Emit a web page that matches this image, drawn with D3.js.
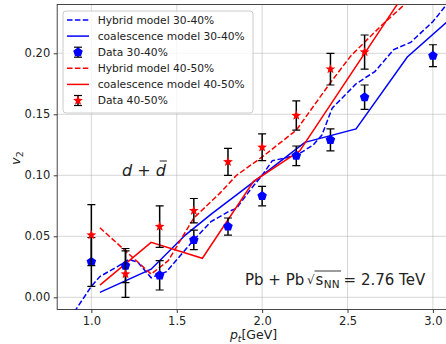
<!DOCTYPE html>
<html><head><meta charset="utf-8">
<script src="https://cdn.jsdelivr.net/npm/d3@7"></script>
<style>body{margin:0;background:#fff}svg{display:block;font-family:"DejaVu Sans",sans-serif}text{white-space:pre}</style>
</head><body><svg id="c" width="446" height="344"></svg>
<script>
// ---- data ----
const ptData = [1.0, 1.2, 1.4, 1.6, 1.8, 2.0, 2.2, 2.4, 2.6, 3.0];
const v2Data3040 = [0.029, 0.026, 0.018, 0.047, 0.058, 0.083, 0.116, 0.129, 0.164, 0.198];
const err3040 = [0.020, 0.014, 0.012, 0.008, 0.007, 0.008, 0.008, 0.009, 0.010, 0.009];
const ptData4050 = [1.0, 1.2, 1.4, 1.6, 1.8, 2.0, 2.2, 2.4, 2.6];
const v2Data4050 = [0.051, 0.019, 0.058, 0.071, 0.111, 0.123, 0.149, 0.187, 0.201];
const err4050 = [0.025, 0.019, 0.017, 0.010, 0.011, 0.011, 0.012, 0.013, 0.014];

const hybridPt3040 = [0.9, 1.0, 1.05, 1.15, 1.22, 1.27, 1.35, 1.44, 1.6, 1.7, 1.8, 1.85, 1.93, 2.0, 2.06, 2.13, 2.21, 2.3, 2.35, 2.41, 2.55, 2.66, 2.77, 2.87, 3.0, 3.08];
const hybridV2_3040 = [-0.012, 0.009, 0.017, 0.025, 0.031, 0.029, 0.016, 0.021, 0.047, 0.062, 0.070, 0.073, 0.088, 0.100, 0.112, 0.114, 0.117, 0.125, 0.133, 0.155, 0.175, 0.185, 0.203, 0.209, 0.226, 0.240];
const coalPt3040 = [1.05, 1.35, 1.55, 1.7, 2.0, 2.25, 2.55, 2.85, 3.1];
const coalV2_3040 = [0.004, 0.023, 0.051, 0.068, 0.100, 0.127, 0.138, 0.197, 0.228];
const hybridPt4050 = [1.05, 1.2, 1.35, 1.45, 1.6, 1.75, 1.85, 2.0, 2.2, 2.4, 2.52, 2.7, 2.85];
const hybridV2_4050 = [0.057, 0.038, 0.019, 0.030, 0.065, 0.085, 0.100, 0.115, 0.137, 0.176, 0.198, 0.223, 0.242];
const coalPt4050 = [1.05, 1.35, 1.65, 1.95, 2.22, 2.8, 2.9];
const coalV2_4050 = [0.010, 0.045, 0.032, 0.095, 0.120, 0.242, 0.263];

const xTicks = [1.0, 1.5, 2.0, 2.5, 3.0];
const yTicks = [0.00, 0.05, 0.10, 0.15, 0.20];
const legendLabels = ["Hybrid model 30-40%", "coalescence model 30-40%", "Data 30-40%", "Hybrid model 40-50%", "coalescence model 40-50%", "Data 40-50%"];

// ---- layout ----
const L = 57.2, R = 450, T = 4.5, B = 309.5;
const svg = d3.select("#c");
const x = d3.scaleLinear().domain([0.8, 3.1]).range([L, R]);
const y = d3.scaleLinear().domain([-0.01, 0.24]).range([B, T]);
const BLUE = "#0000ff", RED = "#ff0000";

svg.append("defs").append("clipPath").attr("id", "clip")
  .append("rect").attr("x", L).attr("y", T).attr("width", R - L).attr("height", B - T);

// grid
const grid = svg.append("g");
xTicks.forEach(t => grid.append("line").attr("x1", x(t)).attr("x2", x(t)).attr("y1", T).attr("y2", B)
  .attr("stroke", "#b0b0b0").attr("stroke-opacity", 0.5).attr("stroke-width", 1));
yTicks.forEach(t => grid.append("line").attr("y1", y(t)).attr("y2", y(t)).attr("x1", L).attr("x2", R)
  .attr("stroke", "#b0b0b0").attr("stroke-opacity", 0.5).attr("stroke-width", 1));

// axes
const xAxis = svg.append("g").attr("transform", `translate(0,${B})`)
  .call(d3.axisBottom(x).tickValues(xTicks).tickFormat(d3.format(".1f")).tickSizeOuter(0).tickSize(3.5).tickPadding(3.5));
const yAxis = svg.append("g").attr("transform", `translate(${L},0)`)
  .call(d3.axisLeft(y).tickValues(yTicks).tickFormat(d3.format(".2f")).tickSizeOuter(0).tickSize(3.5).tickPadding(3.5));
[xAxis, yAxis].forEach(a => {
  a.select(".domain").remove();
  a.selectAll("text").attr("font-size", "11.5px").attr("fill", "#222").attr("font-family", "DejaVu Sans");
  a.selectAll("line").attr("stroke", "#222").attr("stroke-width", 0.9);
});
// spines
svg.append("rect").attr("x", L).attr("y", T).attr("width", R - L).attr("height", B - T)
  .attr("fill", "none").attr("stroke", "#333").attr("stroke-width", 0.9);

// lines
const plot = svg.append("g").attr("clip-path", "url(#clip)");
const lineGen = d3.line().x(d => x(d[0])).y(d => y(d[1]));
function drawLine(pts, vals, color, dashed) {
  plot.append("path").datum(pts.map((p, i) => [p, vals[i]]))
    .attr("d", lineGen).attr("fill", "none").attr("stroke", color).attr("stroke-width", 1.5)
    .attr("stroke-dasharray", dashed ? "5.5,2.4" : null);
}
drawLine(hybridPt3040, hybridV2_3040, BLUE, true);
drawLine(coalPt3040, coalV2_3040, BLUE, false);
drawLine(hybridPt4050, hybridV2_4050, RED, true);
drawLine(coalPt4050, coalV2_4050, RED, false);

function pentagonPath(r) {
  let p = "";
  for (let i = 0; i < 5; i++) {
    const a = -Math.PI / 2 + i * 2 * Math.PI / 5;
    p += (i ? "L" : "M") + (r * Math.cos(a)).toFixed(2) + "," + (r * Math.sin(a)).toFixed(2);
  }
  return p + "Z";
}
function starPath(r) {
  let p = "";
  for (let i = 0; i < 10; i++) {
    const a = -Math.PI / 2 + i * Math.PI / 5;
    const rr = i % 2 ? r * 0.42 : r;
    p += (i ? "L" : "M") + (rr * Math.cos(a)).toFixed(2) + "," + (rr * Math.sin(a)).toFixed(2);
  }
  return p + "Z";
}
function errorbars(g, pts, vals, errs) {
  pts.forEach((p, i) => {
    const cx = x(p);
    g.append("line").attr("x1", cx).attr("x2", cx).attr("y1", y(vals[i] - errs[i])).attr("y2", y(vals[i] + errs[i]))
      .attr("stroke", "#000").attr("stroke-width", 1.5);
    [vals[i] - errs[i], vals[i] + errs[i]].forEach(v => g.append("line")
      .attr("x1", cx - 4).attr("x2", cx + 4).attr("y1", y(v)).attr("y2", y(v))
      .attr("stroke", "#000").attr("stroke-width", 1.2));
  });
}
function markers(g, pts, vals, path, color) {
  g.selectAll(null).data(pts.map((p, i) => [p, vals[i]])).enter().append("path")
    .attr("d", path).attr("transform", d => `translate(${x(d[0])},${y(d[1])})`).attr("fill", color);
}
const dg = svg.append("g").attr("clip-path", "url(#clip)");
errorbars(dg, ptData, v2Data3040, err3040);
markers(dg, ptData, v2Data3040, pentagonPath(5), BLUE);
errorbars(dg, ptData4050, v2Data4050, err4050);
markers(dg, ptData4050, v2Data4050, starPath(5.2), RED);

// legend
const lg = svg.append("g");
lg.append("rect").attr("x", 63).attr("y", 11).attr("width", 190).attr("height", 102).attr("rx", 3)
  .attr("fill", "#fff").attr("fill-opacity", 0.8).attr("stroke", "#cccccc").attr("stroke-width", 1);
const legendStyle = [
  {c: BLUE, t: "dash"}, {c: BLUE, t: "line"}, {c: BLUE, t: "pent"},
  {c: RED, t: "dash"}, {c: RED, t: "line"}, {c: RED, t: "star"}];
legendLabels.forEach((lab, i) => {
  const yy = 20 + i * 16.1;
  const s = legendStyle[i];
  if (s.t === "dash" || s.t === "line") {
    lg.append("line").attr("x1", 67).attr("x2", 89).attr("y1", yy).attr("y2", yy)
      .attr("stroke", s.c).attr("stroke-width", 1.5).attr("stroke-dasharray", s.t === "dash" ? "5.5,2.4" : null);
  } else {
    lg.append("line").attr("x1", 78).attr("x2", 78).attr("y1", yy - 5).attr("y2", yy + 5).attr("stroke", "#000").attr("stroke-width", 1.5);
    [yy - 5, yy + 5].forEach(v => lg.append("line").attr("x1", 74).attr("x2", 82).attr("y1", v).attr("y2", v).attr("stroke", "#000").attr("stroke-width", 1.2));
    lg.append("path").attr("d", s.t === "pent" ? pentagonPath(5) : starPath(5.2)).attr("transform", `translate(78,${yy})`).attr("fill", s.c);
  }
  lg.append("text").attr("x", 97.7).attr("y", yy).attr("dy", "0.35em").attr("font-size", "10.7px").attr("fill", "#222").text(lab);
});

// axis labels
const yl = svg.append("text").attr("transform", "translate(20,158) rotate(-90)").attr("text-anchor", "middle")
  .attr("font-size", "13px").attr("fill", "#222");
yl.append("tspan").attr("font-style", "italic").text("v");
yl.append("tspan").attr("font-size", "9.5px").attr("dy", 3).text("2");

const xl = svg.append("text").attr("x", 253.5).attr("y", 339).attr("text-anchor", "middle")
  .attr("font-size", "12.5px").attr("fill", "#222");
xl.append("tspan").attr("font-style", "italic").text("p");
xl.append("tspan").attr("font-style", "italic").attr("font-size", "9px").attr("dy", 3).text("t");
xl.append("tspan").attr("dy", -3).text("[GeV]");

// d + dbar
const dd = svg.append("text").attr("x", 122).attr("y", 176).attr("font-size", "16px").attr("fill", "#222");
dd.append("tspan").attr("font-style", "italic").text("d");
dd.append("tspan").text(" + ");
dd.append("tspan").attr("font-style", "italic").text("d");
{
  const n = dd.node();
  const e = n.getEndPositionOfChar(n.getNumberOfChars() - 1).x;
  const s = n.getStartPositionOfChar(n.getNumberOfChars() - 1).x;
  svg.append("line").attr("x1", s + 4).attr("x2", e + 1).attr("y1", 161).attr("y2", 161).attr("stroke", "#222").attr("stroke-width", 1);
}

// Pb + Pb sqrt(sNN) = 2.76 TeV
{
  const g = svg.append("g").attr("fill", "#222");
  const by = 285;
  function piece(txt, x0, size, dy) {
    const t = g.append("text").attr("x", x0).attr("y", by + (dy || 0)).attr("font-size", size + "px").text(txt);
    return x0 + t.node().getComputedTextLength();
  }
  piece("Pb + Pb", 245, 15);
  piece("\u221A", 307, 12, -1);
  const sEnd = piece("s", 315.5, 15);
  const nnEnd = piece("NN", sEnd + 0.5, 10.5, 3);
  g.append("line").attr("x1", 314.5).attr("x2", nnEnd + 1.5).attr("y1", 271).attr("y2", 271).attr("stroke", "#222").attr("stroke-width", 0.9);
  piece("= 2.76 TeV", nnEnd + 4, 15);
}
</script></body></html>
